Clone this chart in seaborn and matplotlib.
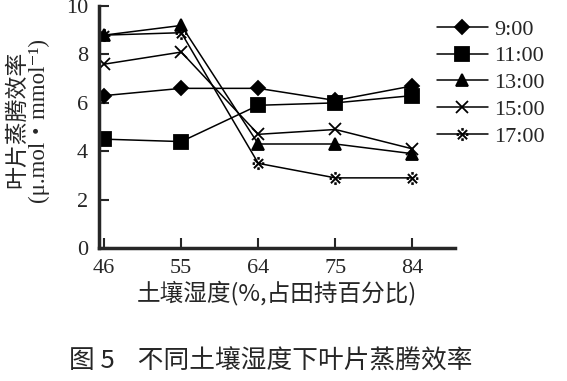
"""
Leaf transpiration efficiency under different soil moisture levels (Fig. 5).
"""

import matplotlib
matplotlib.use("Agg")
import matplotlib.pyplot as plt
import seaborn as sns
import pandas as pd

moisture = ["46", "55", "64", "75", "84"]
times = ["9:00", "11:00", "13:00", "15:00", "17:00"]
t0900 = [6.3, 6.6, 6.6, 6.1, 6.7]
t1100 = [4.5, 4.4, 5.9, 6.0, 6.3]
t1300 = [8.8, 9.2, 4.3, 4.3, 3.9]
t1500 = [7.6, 8.1, 4.7, 4.9, 4.1]
t1700 = [8.8, 8.9, 3.5, 2.9, 2.9]

SERIF = ["Liberation Serif", "Noto Sans CJK SC", "DejaVu Sans"]
CJK = ["Noto Sans CJK SC", "DejaVu Sans"]


def main():
    sns.set_style("ticks")
    plt.rcParams["font.family"] = SERIF

    rows = []
    for t, vals in zip(times, [t0900, t1100, t1300, t1500, t1700]):
        for i, v in enumerate(vals):
            rows.append({"pos": i, "time": t, "value": v})
    df = pd.DataFrame(rows)

    fig = plt.figure(figsize=(5.67, 3.81), dpi=100)
    ax = fig.add_axes([0.175, 0.349, 0.627, 0.635])

    markers = {"9:00": "D", "11:00": "s", "13:00": "^", "15:00": "x", "17:00": "$※$"}
    sizes = {"9:00": 7.5, "11:00": 10, "13:00": 9, "15:00": 9, "17:00": 9}
    edges = {"9:00": 1.3, "11:00": 1.3, "13:00": 1.3, "15:00": 1.3, "17:00": 0.4}
    for t in times:
        sub = df[df["time"] == t]
        sns.lineplot(data=sub, x="pos", y="value", ax=ax, color="black",
                     marker=markers[t], markersize=sizes[t], markeredgewidth=edges[t],
                     markeredgecolor="black", linewidth=1.1, label=t)

    ax.set_xlim(-0.065, 4.55)
    ax.set_ylim(0, 10)
    ax.set_xticks(range(len(moisture)))
    ax.set_xticklabels(moisture)
    ax.set_yticks([0, 2, 4, 6, 8, 10])
    ax.tick_params(direction="in", length=7, width=1.5, labelsize=16, pad=8)
    for s in ["left", "bottom"]:
        ax.spines[s].set_linewidth(2.5)
    sns.despine(ax=ax)

    ax.set_xlabel("土壤湿度(%,占田持百分比)", family=CJK, fontsize=17, labelpad=2)
    ax.set_ylabel("叶片蒸腾效率\n(μ.mol・mmol⁻¹)", family=SERIF, fontsize=16.5, linespacing=1.0)
    ax.yaxis.label.set_va("center")
    ax.yaxis.set_label_coords(-0.2, 0.53)

    ax.legend(loc="upper left", bbox_to_anchor=(0.77, 0.95),
              bbox_transform=fig.transFigure, frameon=False, fontsize=16,
              handlelength=2.3, handletextpad=0.3, labelspacing=0.28,
              borderpad=0, borderaxespad=0)

    fig.text(0.477, 0.05, "图 5    不同土壤湿度下叶片蒸腾效率", family=CJK,
             fontsize=18.5, ha="center", va="center")

    fig.savefig("out.png", dpi=100)


if __name__ == "__main__":
    main()
